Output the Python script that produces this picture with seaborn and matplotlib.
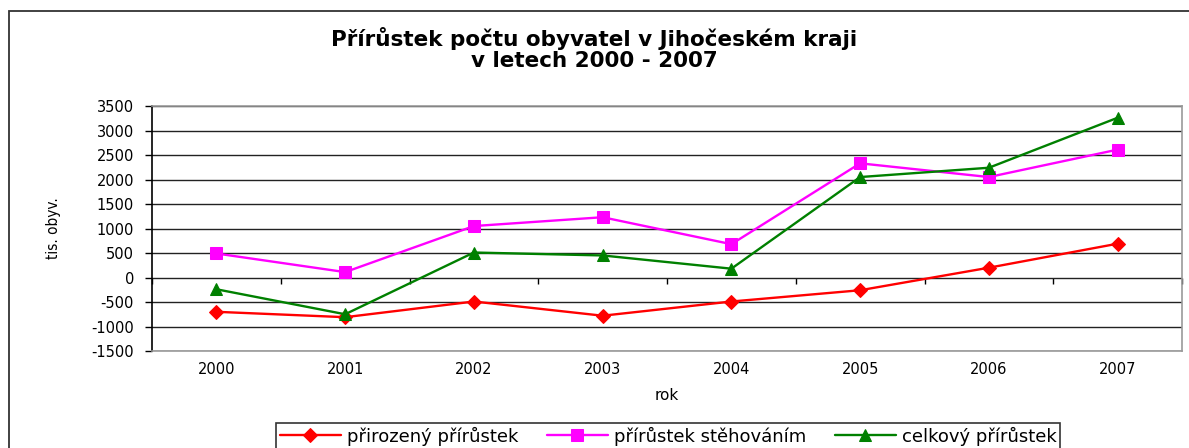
# prirustek obyvatel - Jihocesky kraj
import numpy as np
import pandas as pd
import matplotlib.pyplot as plt
import seaborn as sns
from matplotlib.patches import Rectangle

# data
roky = ['2000', '2001', '2002', '2003', '2004', '2005', '2006', '2007']
prirozeny = [-700, -810, -490, -780, -490, -260, 200, 690]
stehovani = [490, 110, 1050, 1230, 680, 2330, 2050, 2610]
celkovy = [-240, -750, 510, 450, 180, 2050, 2240, 3260]
nazvy = ['přirozený přírůstek', 'přírůstek stěhováním', 'celkový přírůstek']

sns.set_style('white')
plt.rcParams['font.family'] = ['DejaVu Sans']
plt.rcParams['axes.unicode_minus'] = False
plt.rcParams['text.color'] = 'black'
plt.rcParams['axes.labelcolor'] = 'black'
plt.rcParams['xtick.color'] = 'black'
plt.rcParams['ytick.color'] = 'black'

df = pd.DataFrame({'poz': np.arange(len(roky)), 'rok': roky,
                   nazvy[0]: prirozeny, nazvy[1]: stehovani, nazvy[2]: celkovy})

fig = plt.figure(figsize=(11.89, 4.48), dpi=100)
ax = fig.add_axes([152/1189, 1-351/448, (1182-152)/1189, (351-106)/448])

# series style: color, marker, marker size
styly = {nazvy[0]: ('#ff0000', 'D', 7),
         nazvy[1]: ('#ff00ff', 's', 9),
         nazvy[2]: ('#008000', '^', 9)}
for n in nazvy:
    c, m, ms = styly[n]
    sns.lineplot(data=df, x='poz', y=n, ax=ax, color=c, marker=m,
                 markersize=ms, markeredgecolor=c, linewidth=1.7, label=n)

ymin, ymax = -1500, 3500
ax.set_ylim(ymin, ymax)
ax.set_xlim(-0.5, len(roky) - 0.5)
ax.set_yticks(np.arange(ymin, ymax + 1, 500))
ax.yaxis.grid(True, color='#222222', linewidth=1)
ax.set_axisbelow(True)

ax.set_xticks(df['poz'])
ax.set_xticklabels(roky)
ax.tick_params(axis='x', length=0, pad=8, labelsize=10.5)
ax.tick_params(axis='y', direction='out', length=5, width=1, color='black',
               left=True, pad=8, labelsize=10.5)

for s in ['top', 'right', 'bottom']:
    ax.spines[s].set_color('#999999')
    ax.spines[s].set_linewidth(1.2)
ax.spines['left'].set_color('black')
ax.spines['left'].set_linewidth(1.2)

# category axis crossing at zero with boundary ticks
sec = ax.secondary_xaxis((0 - ymin) / (ymax - ymin))
sec.set_xticks(np.arange(-0.5, len(roky), 1.0))
sec.set_xticklabels([])
sec.tick_params(direction='out', length=4, width=1, color='black')
sec.spines['bottom'].set_visible(False)

ax.set_xlabel('rok', fontsize=11, labelpad=8)
ax.set_ylabel('tis. obyv.', fontsize=11, labelpad=22, fontstretch='condensed')

fig.text(0.5, 1 - 49/448, 'Přírůstek počtu obyvatel v Jihočeském kraji\nv letech 2000 - 2007',
         ha='center', va='center', fontsize=15.5, fontweight='bold', linespacing=1.05)

handles, labels = ax.get_legend_handles_labels()
ax.get_legend().remove()
leg = fig.legend(handles, labels, loc='upper center', ncol=3,
                 bbox_to_anchor=(668/1189, 1 - 423/448), frameon=True,
                 fancybox=False, edgecolor='black', fontsize=13,
                 handlelength=3.4, columnspacing=1.6, handletextpad=0.3,
                 borderpad=0.2, borderaxespad=0)
leg.get_frame().set_linewidth(1.2)

# outer chart border (runs off the right and bottom edge)
fig.add_artist(Rectangle((9/1189, -0.2), 1.2, 1 - 11/448 + 0.2,
                         transform=fig.transFigure, fill=False,
                         edgecolor='#333333', linewidth=1.3))

plt.savefig('out.png', dpi=100)
